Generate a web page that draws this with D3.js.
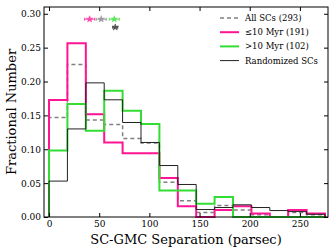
<!DOCTYPE html>
<html>
<head>
<meta charset="utf-8">
<script src="https://cdn.jsdelivr.net/npm/d3@7"></script>
<style>
  body { margin: 0; background: #fff; }
  svg text { font-family: "DejaVu Serif", serif; }
</style>
</head>
<body>
<div id="chart"></div>
<script>
// bin edges (parsec), 15 bins from 0 to 275
var binEdges = [0, 18.33, 36.67, 55, 73.33, 91.67, 110, 128.33, 146.67, 165, 183.33, 201.67, 220, 238.33, 256.67, 275];

// fractional numbers per bin
var allSCs   = [0.1468, 0.2253, 0.1433, 0.1365, 0.1160, 0.1092, 0.0512, 0.0239, 0.0068, 0.0171, 0.0102, 0.0034, 0.0, 0.0068, 0.0034];
var young    = [0.1728, 0.2565, 0.1518, 0.1099, 0.0942, 0.0942, 0.0576, 0.0157, 0.0, 0.0105, 0.0157, 0.0052, 0.0, 0.0105, 0.0052];
var old      = [0.0980, 0.1667, 0.1275, 0.1863, 0.1569, 0.1373, 0.0392, 0.0392, 0.0196, 0.0294, 0.0, 0.0, 0.0, 0.0, 0.0];
var randomSC = [0.053, 0.130, 0.198, 0.173, 0.1395, 0.110, 0.076, 0.048, 0.011, 0.014, 0.018, 0.014, 0.0095, 0.008, 0.004];

// median markers: x, x error, y
var medians = [
  {name: "young", x: 40.5, err: 5, y: 0.292},
  {name: "all", x: 52, err: 5, y: 0.292},
  {name: "old", x: 65, err: 5, y: 0.292},
  {name: "random", x: 66, err: 2.5, y: 0.280}
];

var xTicks = [0, 50, 100, 150, 200, 250];
var yTicks = [0.00, 0.05, 0.10, 0.15, 0.20, 0.25, 0.30];

var colors = {all: "#808080", young: "#ff1493", old: "#33dd33", random: "#222222"};

var width = 336, height = 252;
var margin = {left: 44, right: 8, top: 7, bottom: 35};

var svg = d3.select("#chart").append("svg")
    .attr("width", width)
    .attr("height", height);

var x = d3.scaleLinear().domain([-5, 278]).range([margin.left, width - margin.right]);
var y = d3.scaleLinear().domain([0, 0.31]).range([height - margin.bottom, margin.top]);

// step outline like a matplotlib 'step' histogram
function stepPoints(vals) {
    var pts = [[binEdges[0], 0]];
    vals.forEach(function(v, i) {
        pts.push([binEdges[i], v]);
        pts.push([binEdges[i + 1], v]);
    });
    pts.push([binEdges[binEdges.length - 1], 0]);
    return pts;
}
var line = d3.line()
    .x(function(d) { return x(d[0]); })
    .y(function(d) { return y(d[1]); });

var series = [
    {vals: allSCs, color: colors.all, w: 1.5, dash: "4,3"},
    {vals: young, color: colors.young, w: 2, dash: null},
    {vals: old, color: colors.old, w: 2, dash: null},
    {vals: randomSC, color: colors.random, w: 1, dash: null}
];

var plot = svg.append("g");
series.forEach(function(s) {
    plot.append("path")
        .attr("d", line(stepPoints(s.vals)))
        .attr("fill", "none")
        .attr("stroke", s.color)
        .attr("stroke-width", s.w)
        .attr("stroke-dasharray", s.dash);
});

// median stars with error bars
var star = d3.symbol().type(d3.symbolStar).size(13);
medians.forEach(function(m) {
    var c = colors[m.name];
    var g = svg.append("g").attr("opacity", 0.8);
    g.append("line")
        .attr("x1", x(m.x - m.err)).attr("x2", x(m.x + m.err))
        .attr("y1", y(m.y)).attr("y2", y(m.y))
        .attr("stroke", c).attr("stroke-width", 1);
    [m.x - m.err, m.x + m.err].forEach(function(e) {
        g.append("line")
            .attr("x1", x(e)).attr("x2", x(e))
            .attr("y1", y(m.y) - 1.5).attr("y2", y(m.y) + 1.5)
            .attr("stroke", c).attr("stroke-width", 1);
    });
    g.append("path")
        .attr("d", star)
        .attr("transform", "translate(" + x(m.x) + "," + y(m.y) + ")")
        .attr("fill", c)
        .attr("stroke", c)
        .attr("stroke-width", 0.6);
});

// frame
svg.append("rect")
    .attr("x", x(-5)).attr("y", y(0.31))
    .attr("width", x(278) - x(-5)).attr("height", y(0) - y(0.31))
    .attr("fill", "none").attr("stroke", "#000").attr("stroke-width", 1);

// axes with inward ticks on all sides
var tickLen = 4;
svg.append("g")
    .attr("transform", "translate(0," + y(0) + ")")
    .call(d3.axisBottom(x).tickValues(xTicks).tickSizeInner(-tickLen).tickSizeOuter(0).tickPadding(4))
    .call(function(g) { g.select(".domain").remove(); })
    .selectAll("text").attr("font-size", 9).attr("font-family", "DejaVu Serif").attr("fill", "#000");
svg.append("g")
    .attr("transform", "translate(0," + y(0.31) + ")")
    .call(d3.axisTop(x).tickValues(xTicks).tickSizeInner(-tickLen).tickSizeOuter(0).tickFormat(""))
    .call(function(g) { g.select(".domain").remove(); });
svg.append("g")
    .attr("transform", "translate(" + x(-5) + ",0)")
    .call(d3.axisLeft(y).tickValues(yTicks).tickSizeInner(-tickLen).tickSizeOuter(0).tickPadding(3).tickFormat(d3.format(".2f")))
    .call(function(g) { g.select(".domain").remove(); })
    .selectAll("text").attr("font-size", 9).attr("font-family", "DejaVu Serif").attr("fill", "#000");
svg.append("g")
    .attr("transform", "translate(" + x(278) + ",0)")
    .call(d3.axisRight(y).tickValues(yTicks).tickSizeInner(-tickLen).tickSizeOuter(0).tickFormat(""))
    .call(function(g) { g.select(".domain").remove(); });

// axis labels
svg.append("text")
    .attr("x", (x(-5) + x(278)) / 2)
    .attr("y", 244)
    .attr("text-anchor", "middle")
    .attr("font-size", 13)
    .text("SC-GMC Separation (parsec)");
svg.append("text")
    .attr("transform", "translate(16," + ((y(0) + y(0.31)) / 2) + ") rotate(-90)")
    .attr("text-anchor", "middle")
    .attr("font-size", 13)
    .text("Fractional Number");

// legend
var legendItems = [
    {label: "All SCs (293)", color: colors.all, w: 1.5, dash: "4,3"},
    {label: "\u226410 Myr (191)", color: colors.young, w: 2, dash: null},
    {label: ">10 Myr (102)", color: colors.old, w: 2, dash: null},
    {label: "Randomized SCs", color: colors.random, w: 1, dash: null}
];
var legend = svg.append("g").attr("transform", "translate(220,18)");
legendItems.forEach(function(d, i) {
    var row = legend.append("g").attr("transform", "translate(0," + (i * 14.2) + ")");
    row.append("line")
        .attr("x1", 0).attr("x2", 19)
        .attr("stroke", d.color).attr("stroke-width", d.w)
        .attr("stroke-dasharray", d.dash);
    row.append("text")
        .attr("x", 25).attr("y", 3)
        .attr("font-size", 8.5)
        .text(d.label);
});
</script>
</body>
</html>
